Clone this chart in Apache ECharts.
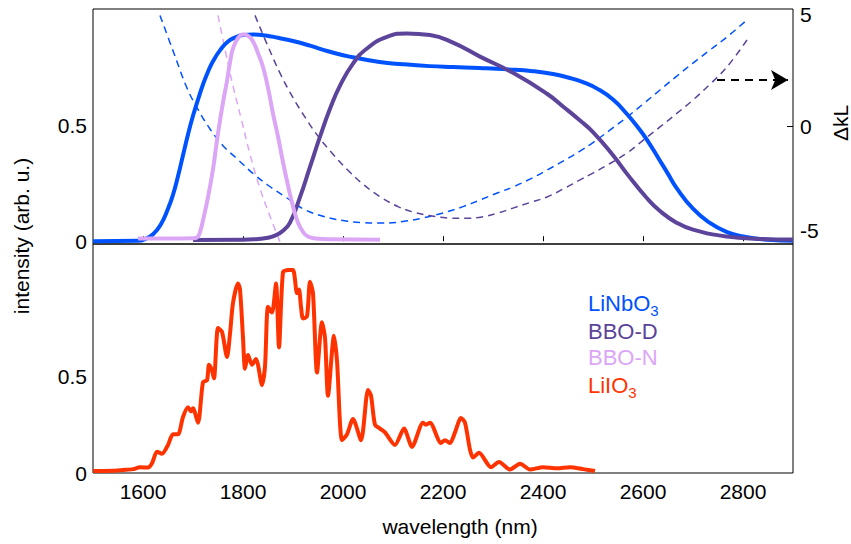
<!DOCTYPE html>
<html><head><meta charset="utf-8">
<script src="https://cdn.jsdelivr.net/npm/echarts@6/dist/echarts.min.js"></script>
<style>html,body{margin:0;padding:0;background:#fff}#c{width:851px;height:544px}</style>
</head><body><div id="c"></div>
<script>
// ---------- data ----------
const xTicks = [1600, 1800, 2000, 2200, 2400, 2600, 2800];
const intensityTicks = [0, 0.5];
const dkTicks = [-5, 0, 5];

const linbo3Wl  = [1500,1590,1605,1620,1635,1650,1660,1670,1680,1690,1700,1710,1720,1730,1740,1755,1770,1785,1800,1820,1845,1870,1900,1934,1970,2013,2073,2120,2173,2220,2273,2330,2380,2420,2450,2480,2510,2540,2567,2590,2607,2633,2650,2667,2700,2733,2767,2800,2850,2900];
const linbo3Int = [0,0.002,0.01,0.03,0.07,0.14,0.2,0.28,0.37,0.46,0.54,0.61,0.675,0.73,0.775,0.825,0.86,0.878,0.888,0.89,0.886,0.876,0.862,0.842,0.818,0.795,0.772,0.762,0.754,0.75,0.746,0.74,0.732,0.72,0.705,0.685,0.655,0.61,0.55,0.49,0.44,0.35,0.29,0.23,0.14,0.08,0.04,0.02,0.006,0.002];

const bbodWl  = [1700,1800,1830,1850,1865,1880,1894,1914,1934,1954,1974,1994,2020,2048,2088,2128,2174,2220,2274,2340,2408,2440,2474,2500,2540,2568,2608,2634,2667,2700,2768,2834,2900];
const bbodInt = [0.005,0.006,0.01,0.015,0.025,0.045,0.08,0.19,0.32,0.45,0.57,0.67,0.765,0.83,0.88,0.895,0.888,0.855,0.795,0.725,0.635,0.58,0.52,0.47,0.37,0.29,0.185,0.13,0.08,0.05,0.02,0.01,0.007];

const bbonWl  = [1590,1650,1700,1708,1714,1720,1730,1740,1747,1754,1761,1768,1774,1780,1790,1800,1810,1820,1830,1840,1850,1860,1870,1880,1890,1900,1910,1920,1930,1945,1980,2074];
const bbonInt = [0.012,0.012,0.013,0.016,0.04,0.09,0.19,0.31,0.42,0.52,0.61,0.69,0.77,0.83,0.875,0.89,0.885,0.86,0.81,0.75,0.66,0.55,0.45,0.34,0.24,0.15,0.08,0.04,0.02,0.012,0.008,0.006];

// phase mismatch (right axis)
const linbo3DkWl = [1634,1660,1688,1710,1735,1760,1790,1820,1850,1885,1920,1960,2000,2040,2080,2120,2160,2200,2240,2274,2310,2340,2375,2408,2440,2474,2500,2535,2568,2600,2634,2667,2700,2735,2768,2808];
const linbo3Dk   = [5.2,3.55,1.8,0.8,-0.15,-0.9,-1.55,-2.2,-2.75,-3.3,-3.85,-4.2,-4.4,-4.5,-4.52,-4.45,-4.28,-4.05,-3.75,-3.44,-3.1,-2.83,-2.45,-2.04,-1.62,-1.15,-0.75,-0.15,0.44,1.05,1.71,2.35,2.97,3.6,4.19,4.99];

const bbodDkWl = [1824,1850,1875,1900,1925,1950,1980,2010,2040,2075,2110,2140,2175,2210,2245,2280,2310,2340,2375,2408,2440,2474,2500,2535,2568,2600,2634,2667,2700,2735,2768,2808];
const bbodDk   = [5.2,3.75,2.45,1.35,0.4,-0.45,-1.3,-2.05,-2.7,-3.3,-3.75,-4.0,-4.18,-4.28,-4.3,-4.22,-4.05,-3.82,-3.55,-3.3,-2.93,-2.5,-2.18,-1.72,-1.24,-0.65,-0.02,0.6,1.24,2.0,2.79,4.05];

const bbonDkWl = [1750,1765,1780,1797,1814,1834,1854,1874];
const bbonDk   = [5.2,3.5,1.9,0.3,-1.3,-2.9,-4.2,-5.4];

const arrowWl = [2748, 2890];
const arrowDk = [2.18, 2.18];

const liio3Wl  = [1500,1540,1560,1580,1594,1610,1618,1628,1638,1650,1660,1670,1680,1690,1696,1700,1710,1720,1728,1732,1738,1742,1750,1758,1768,1774,1780,1790,1794,1800,1804,1810,1818,1826,1830,1838,1844,1850,1858,1866,1872,1880,1890,1900,1908,1912,1916,1920,1928,1934,1940,1948,1958,1964,1970,1982,1988,1998,2008,2020,2036,2050,2056,2064,2074,2084,2104,2122,2138,2160,2166,2174,2196,2204,2214,2224,2236,2244,2254,2260,2272,2296,2312,2334,2354,2374,2400,2428,2454,2480,2504];
const liio3Int = [0.01,0.012,0.016,0.02,0.03,0.028,0.05,0.11,0.10,0.145,0.2,0.2,0.29,0.34,0.32,0.335,0.26,0.47,0.48,0.56,0.53,0.49,0.75,0.73,0.60,0.72,0.88,0.98,0.95,0.70,0.54,0.61,0.56,0.59,0.56,0.455,0.55,0.86,0.83,0.98,0.65,1.04,1.05,1.05,0.93,0.95,0.86,0.80,0.81,0.99,0.93,0.52,0.78,0.70,0.40,0.71,0.58,0.17,0.2,0.28,0.17,0.43,0.40,0.25,0.23,0.21,0.145,0.23,0.135,0.26,0.25,0.26,0.155,0.17,0.155,0.21,0.285,0.26,0.12,0.08,0.105,0.03,0.057,0.018,0.048,0.018,0.03,0.024,0.03,0.02,0.01];

// ---------- styles ----------
const FONT = "'Liberation Sans', Arial, Helvetica, sans-serif";
const C_LINBO3 = '#0052ff';
const C_BBOD = '#5c449b';
const C_BBON = '#dca6f7';
const C_LIIO3 = '#ff3300';

const zip = (xs, ys) => xs.map((x, i) => [x, ys[i]]);
function line(name, xs, ys, color, width, xi, yi, dashed, smooth) {
  return {
    type: 'line', name, xAxisIndex: xi, yAxisIndex: yi, data: zip(xs, ys),
    symbol: 'none', showSymbol: false, smooth: smooth, silent: true,
    lineStyle: { color, width, type: dashed ? [7, 5] : 'solid', cap: 'butt', join: 'round' }
  };
}
const plain = v => String(v);
const lbl = { fontSize: 21, color: '#000', fontFamily: FONT, formatter: plain };
const rtok = { fontSize: 21, color: '#000', fontFamily: FONT };

function legendText(main, sub, color, y) {
  return {
    type: 'text', x: 588, y: y,
    style: {
      text: '{b|' + main + '}' + (sub ? '{s|' + sub + '}' : ''),
      textAlign: 'left', textVerticalAlign: 'middle',
      rich: {
        b: { fontSize: 22, fontFamily: FONT, fill: color, lineHeight: sub ? 30 : 20 },
        s: { fontSize: 15, fontFamily: FONT, fill: color, lineHeight: 2, verticalAlign: 'bottom' }
      }
    }
  };
}

const chart = echarts.init(document.getElementById('c'), null, { renderer: 'svg' });
chart.setOption({
  animation: false,
  backgroundColor: '#fff',
  grid: [
    { left: 93, top: 9, width: 700, height: 235, show: true, borderColor: '#000', borderWidth: 1, containLabel: false },
    { left: 93, top: 244, width: 700, height: 229, show: true, borderColor: '#000', borderWidth: 1, containLabel: false }
  ],
  xAxis: [
    { type: 'value', gridIndex: 0, min: 1500, max: 2900, axisLine: { show: false }, splitLine: { show: false },
      axisLabel: { show: false }, axisTick: { show: true, inside: true, length: 5, customValues: xTicks, lineStyle: { color: '#000', width: 1 } } },
    { type: 'value', gridIndex: 1, min: 1500, max: 2900, axisLine: { show: false }, splitLine: { show: false },
      axisTick: { show: false }, axisLabel: Object.assign({ customValues: xTicks, margin: 8 }, lbl) }
  ],
  yAxis: [
    { type: 'value', gridIndex: 0, min: -0.012, max: 1.0, axisLine: { show: false }, splitLine: { show: false },
      axisTick: { show: false }, axisLabel: Object.assign({ customValues: intensityTicks, margin: 6 }, lbl) },
    { type: 'value', gridIndex: 0, position: 'right', min: -5.5, max: 5.5, axisLine: { show: false }, splitLine: { show: false },
      axisTick: { show: true, inside: true, length: 6, customValues: [0], lineStyle: { color: '#000' } },
      axisLabel: Object.assign({}, lbl, {
        customValues: dkTicks, margin: 7,
        formatter: v => v === 5 ? '{up|5}' : (v === -5 ? '{dn|-5}' : String(v)),
        rich: {
          up: Object.assign({ padding: [0, 0, 10, 0] }, rtok),
          dn: Object.assign({ padding: [0, 0, 6, 0] }, rtok)
        }
      }) },
    { type: 'value', gridIndex: 1, min: 0, max: 1.185, axisLine: { show: false }, splitLine: { show: false },
      axisTick: { show: false }, axisLabel: Object.assign({ customValues: intensityTicks, margin: 6 }, lbl) }
  ],
  series: [
    line('LiNbO3 ΔkL', linbo3DkWl, linbo3Dk, C_LINBO3, 1.5, 0, 1, true, 0.4),
    line('BBO-D ΔkL', bbodDkWl, bbodDk, C_BBOD, 1.5, 0, 1, true, 0.4),
    line('BBO-N ΔkL', bbonDkWl, bbonDk, C_BBON, 1.5, 0, 1, true, 0.4),
    line('LiNbO3', linbo3Wl, linbo3Int, C_LINBO3, 4, 0, 0, false, true),
    line('BBO-D', bbodWl, bbodInt, C_BBOD, 4, 0, 0, false, true),
    line('BBO-N', bbonWl, bbonInt, C_BBON, 4, 0, 0, false, true),
    line('LiIO3', liio3Wl, liio3Int, C_LIIO3, 4, 1, 2, false, 0.25),
    {
      type: 'line', name: 'arrow', xAxisIndex: 0, yAxisIndex: 1, data: [], silent: true,
      markLine: {
        silent: true, animation: false, symbol: ['none', 'arrow'], symbolSize: [15, 17],
        label: { show: false },
        lineStyle: { color: '#000', width: 2, type: [8, 6] },
        data: [[{ coord: [arrowWl[0], arrowDk[0]] }, { coord: [arrowWl[1], arrowDk[1]] }]]
      }
    }
  ],
  graphic: [
    { type: 'text', x: 21, y: 236, rotation: Math.PI / 2, style: { text: 'intensity (arb. u.)', font: '21px ' + FONT, fill: '#000', textAlign: 'center', textVerticalAlign: 'middle' } },
    { type: 'text', x: 840, y: 123, rotation: Math.PI / 2, style: { text: 'ΔkL', font: '21px ' + FONT, fill: '#000', textAlign: 'center', textVerticalAlign: 'middle' } },
    { type: 'text', x: 460, y: 526, style: { text: 'wavelength (nm)', font: '21px ' + FONT, fill: '#000', textAlign: 'center', textVerticalAlign: 'middle' } },
    legendText('LiNbO', '3', C_LINBO3, 303),
    legendText('BBO-D', '', C_BBOD, 331),
    legendText('BBO-N', '', C_BBON, 357),
    legendText('LiIO', '3', C_LIIO3, 385)
  ]
});
</script>
</body></html>
